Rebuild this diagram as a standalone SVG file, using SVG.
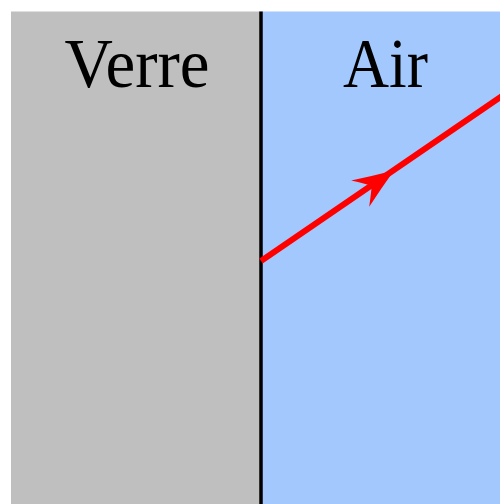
<svg xmlns="http://www.w3.org/2000/svg" width="500" height="504" viewBox="0 0 500 504">
<style>
.lbl{font-family:"Liberation Serif","DejaVu Serif",serif;font-size:70px;fill:#000;text-anchor:middle}
</style>
<g id="verre">
<rect x="11" y="11.5" width="250" height="493" fill="#bfbfbf"/>
<text class="lbl" x="137" y="87" textLength="145" lengthAdjust="spacingAndGlyphs">Verre</text>
</g>
<g id="air">
<rect x="261" y="11.5" width="239" height="493" fill="#a2c8fe"/>
<text class="lbl" x="385.5" y="87" textLength="85" lengthAdjust="spacingAndGlyphs">Air</text>
</g>
<g id="interface">
<line x1="261" y1="11.5" x2="261" y2="504" stroke="#000" stroke-width="3.5"/>
</g>
<g id="connectors">
<line x1="261" y1="261" x2="510" y2="90.6" stroke="#f00" stroke-width="6"/>
<path transform="translate(394,170.5) rotate(-34.4)" d="M0,0 Q-22,-8 -41,-16 Q-31,-5 -27,0 Q-31,5 -41,16 Q-22,8 0,0 Z" fill="#f00"/>
</g>
</svg>
